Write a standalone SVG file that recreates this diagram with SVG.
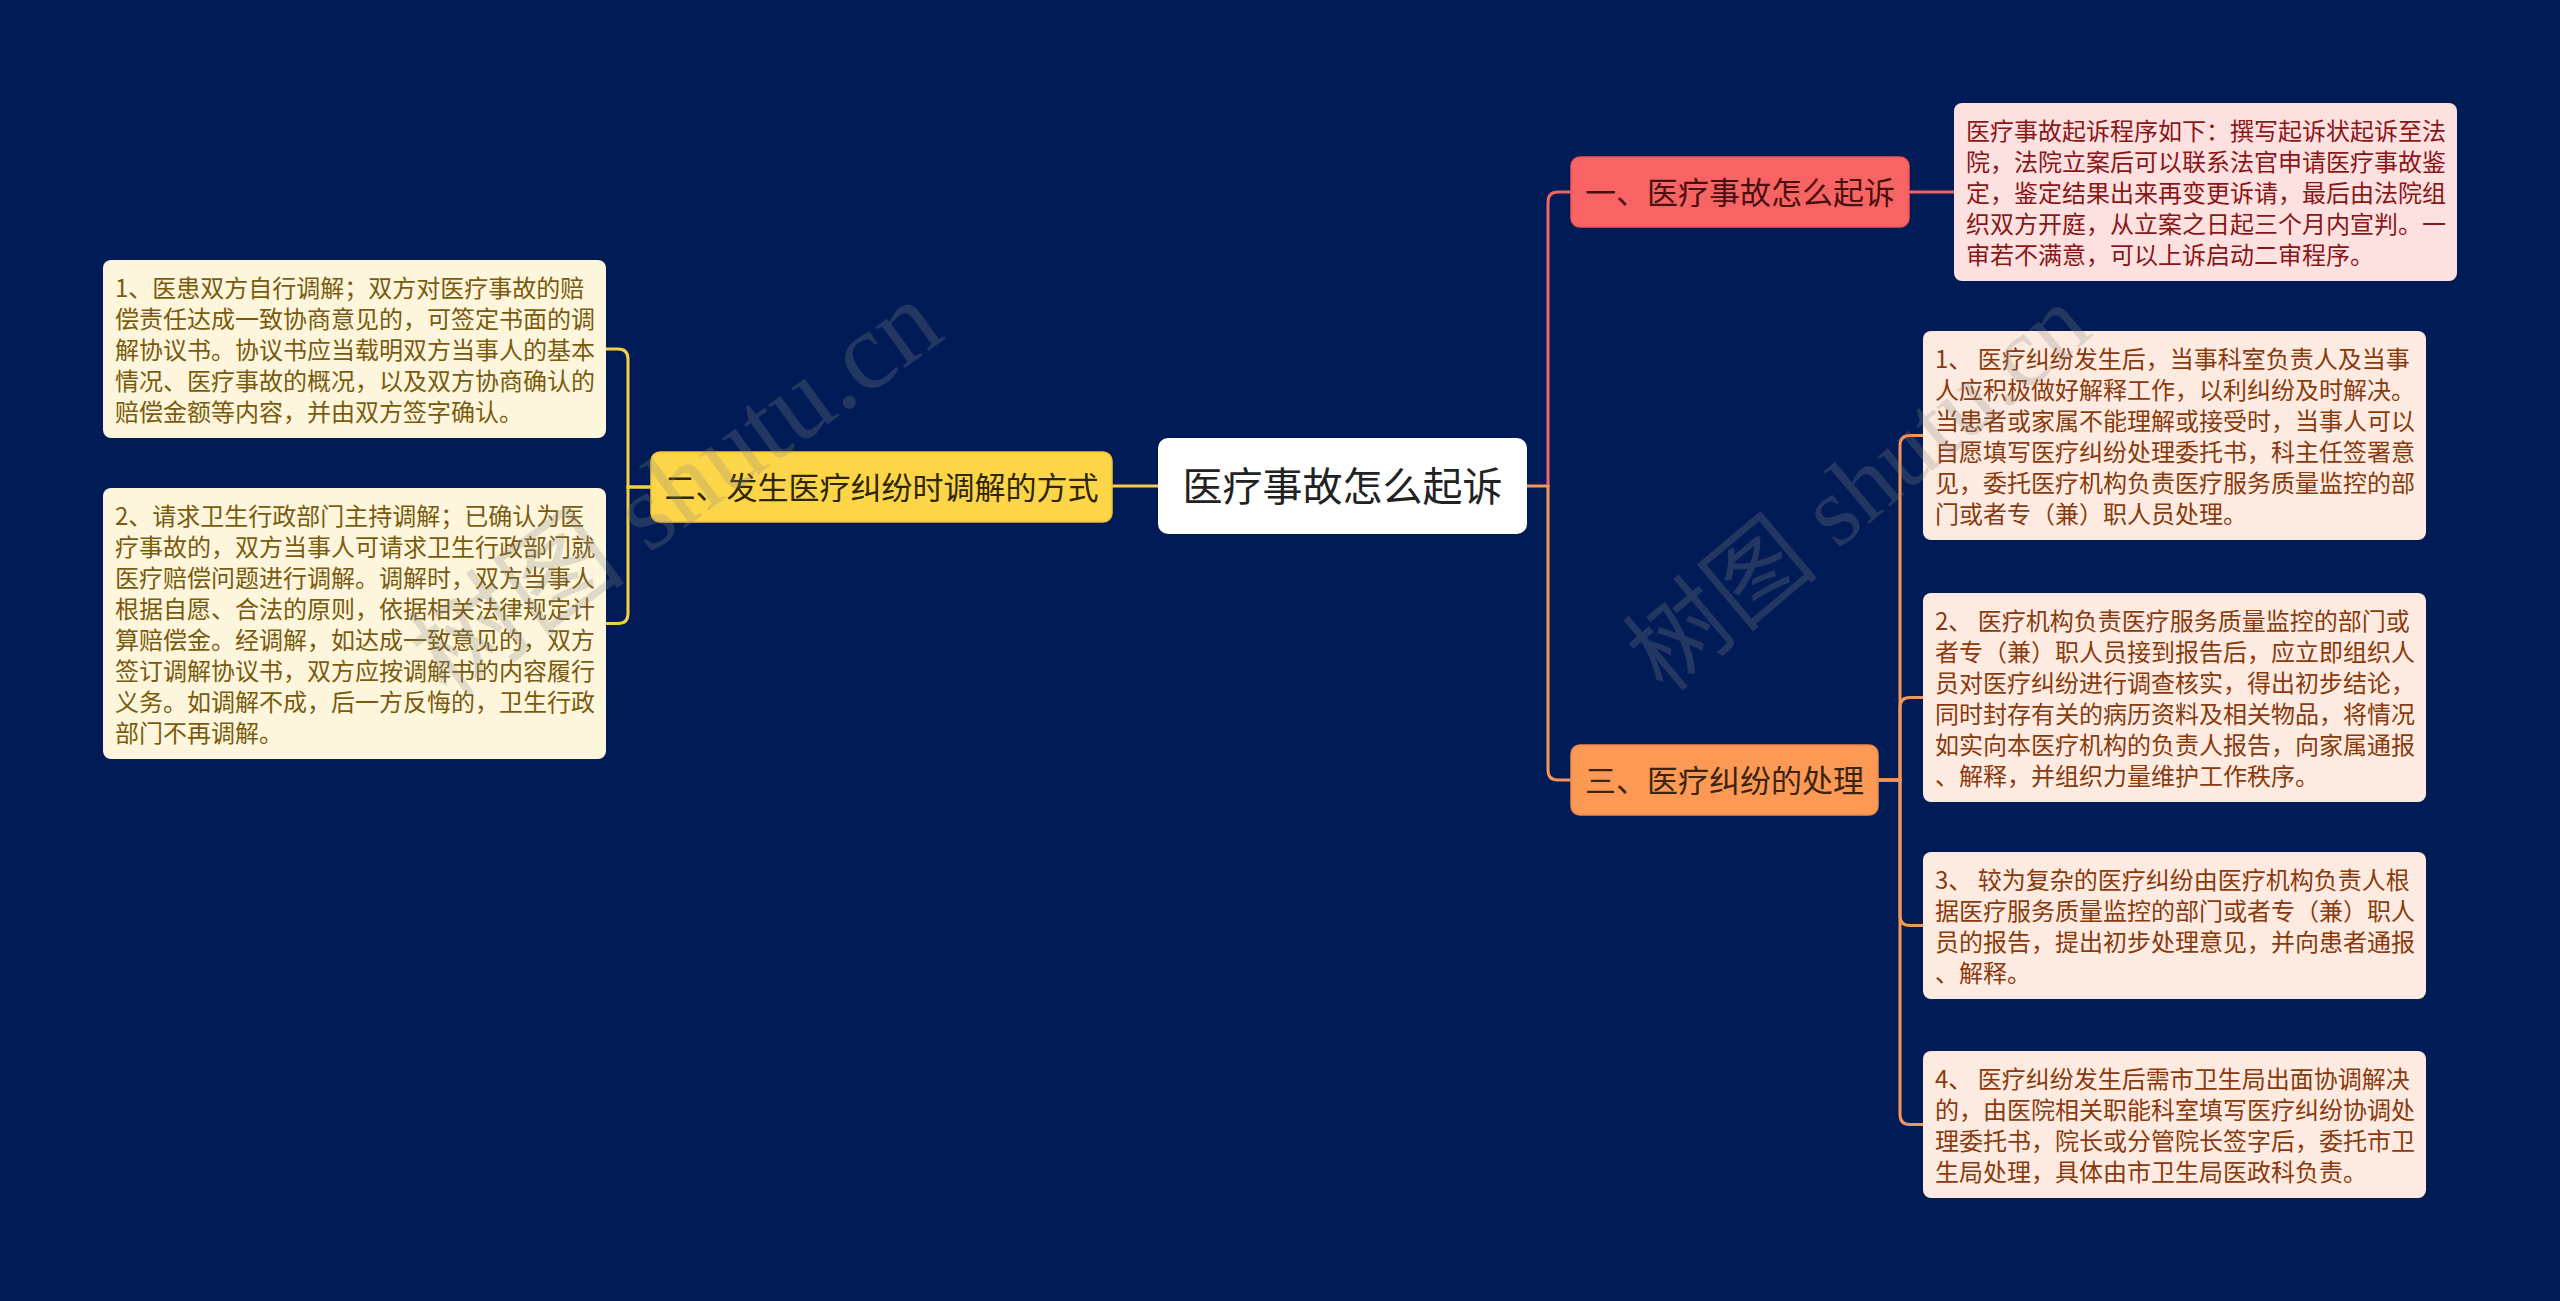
<svg xmlns="http://www.w3.org/2000/svg" width="2560" height="1301" viewBox="0 0 2560 1301">
<style>
.cjk{font-family:"Noto Sans CJK SC","Noto Sans",sans-serif}
.leaf{font-size:24px}
.main{font-size:31px}
.line{fill:none;stroke-width:3;stroke-linecap:round}
.wm{font-family:"Liberation Serif","Noto Sans CJK SC",serif;fill:#8a8a8a;opacity:0.25}
</style>
<rect x="0" y="0" width="2560" height="1301" fill="#011b57"/>
<g id="connectors">
  <path class="line" stroke="#f7cf45" d="M1158,486 H1112"/>
  <path class="line" stroke="#f7cf45" d="M651,487 H628 V359 Q628,349 618,349 H606"/>
  <path class="line" stroke="#f7cf45" d="M651,487 H628 V613.5 Q628,623.5 618,623.5 H606"/>
  <path class="line" stroke="#f59658" d="M1527,486 H1548"/>
  <path class="line" stroke="#ef6564" d="M1548,486 V202 Q1548,192 1558,192 H1571"/>
  <path class="line" stroke="#f59658" d="M1548,486 V770 Q1548,780 1558,780 H1571"/>
  <path class="line" stroke="#ef6564" d="M1909,192 H1954"/>
  <path class="line" stroke="#f59658" d="M1878,780 H1900 V445.5 Q1900,435.5 1910,435.5 H1923"/>
  <path class="line" stroke="#f59658" d="M1878,780 H1900 V707.5 Q1900,697.5 1910,697.5 H1923"/>
  <path class="line" stroke="#f59658" d="M1878,780 H1900 V915.5 Q1900,925.5 1910,925.5 H1923"/>
  <path class="line" stroke="#f59658" d="M1878,780 H1900 V1114.5 Q1900,1124.5 1910,1124.5 H1923"/>
</g>
<g id="root">
  <rect x="1158" y="438" width="369" height="96" rx="10" fill="#ffffff"/>
  <text class="cjk" x="1342.5" y="484" font-size="40" fill="#222222" text-anchor="middle" dominant-baseline="central">医疗事故怎么起诉</text>
</g>
<g id="n-left">
  <rect x="651" y="452" width="461" height="70" rx="9" fill="#fcd548" stroke="#f2c232" stroke-width="1.5"/>
  <text class="cjk main" x="881.5" y="485" fill="#2e2600" text-anchor="middle" dominant-baseline="central">二、发生医疗纠纷时调解的方式</text>
</g>
<g id="n-left-1">
  <rect x="103" y="260" width="503" height="178" rx="8" fill="#fdf6dc"/>
  <text class="cjk leaf" fill="#7a5b0e" dominant-baseline="central">
    <tspan x="115" y="286">1、医患双方自行调解；双方对医疗事故的赔</tspan>
    <tspan x="115" y="317">偿责任达成一致协商意见的，可签定书面的调</tspan>
    <tspan x="115" y="348">解协议书。协议书应当载明双方当事人的基本</tspan>
    <tspan x="115" y="379">情况、医疗事故的概况，以及双方协商确认的</tspan>
    <tspan x="115" y="410">赔偿金额等内容，并由双方签字确认。</tspan>
  </text>
</g>
<g id="n-left-2">
  <rect x="103" y="488" width="503" height="271" rx="8" fill="#fdf6dc"/>
  <text class="cjk leaf" fill="#7a5b0e" dominant-baseline="central">
    <tspan x="115" y="514">2、请求卫生行政部门主持调解；已确认为医</tspan>
    <tspan x="115" y="545">疗事故的，双方当事人可请求卫生行政部门就</tspan>
    <tspan x="115" y="576">医疗赔偿问题进行调解。调解时，双方当事人</tspan>
    <tspan x="115" y="607">根据自愿、合法的原则，依据相关法律规定计</tspan>
    <tspan x="115" y="638">算赔偿金。经调解，如达成一致意见的，双方</tspan>
    <tspan x="115" y="669">签订调解协议书，双方应按调解书的内容履行</tspan>
    <tspan x="115" y="700">义务。如调解不成，后一方反悔的，卫生行政</tspan>
    <tspan x="115" y="731">部门不再调解。</tspan>
  </text>
</g>
<g id="n-right-1">
  <rect x="1571" y="157" width="338" height="70" rx="9" fill="#f86464" stroke="#ee5656" stroke-width="1.5"/>
  <text class="cjk main" x="1740" y="190" fill="#4a0f0f" text-anchor="middle" dominant-baseline="central">一、医疗事故怎么起诉</text>
</g>
<g id="n-right-1-1">
  <rect x="1954" y="103" width="503" height="178" rx="8" fill="#fde1e1"/>
  <text class="cjk leaf" fill="#8a1616" dominant-baseline="central">
    <tspan x="1966" y="129">医疗事故起诉程序如下：撰写起诉状起诉至法</tspan>
    <tspan x="1966" y="160">院，法院立案后可以联系法官申请医疗事故鉴</tspan>
    <tspan x="1966" y="191">定，鉴定结果出来再变更诉请，最后由法院组</tspan>
    <tspan x="1966" y="222">织双方开庭，从立案之日起三个月内宣判。一</tspan>
    <tspan x="1966" y="253">审若不满意，可以上诉启动二审程序。</tspan>
  </text>
</g>
<g id="n-right-3">
  <rect x="1571" y="745" width="307" height="70" rx="9" fill="#fb9955" stroke="#f18a45" stroke-width="1.5"/>
  <text class="cjk main" x="1724.5" y="778" fill="#3d2410" text-anchor="middle" dominant-baseline="central">三、医疗纠纷的处理</text>
</g>
<g id="n-right-3-1">
  <rect x="1923" y="331" width="503" height="209" rx="8" fill="#fdebe1"/>
  <text class="cjk leaf" fill="#8a3a0c" dominant-baseline="central">
    <tspan x="1935" y="357">1、 医疗纠纷发生后，当事科室负责人及当事</tspan>
    <tspan x="1935" y="388">人应积极做好解释工作，以利纠纷及时解决。</tspan>
    <tspan x="1935" y="419">当患者或家属不能理解或接受时，当事人可以</tspan>
    <tspan x="1935" y="450">自愿填写医疗纠纷处理委托书，科主任签署意</tspan>
    <tspan x="1935" y="481">见，委托医疗机构负责医疗服务质量监控的部</tspan>
    <tspan x="1935" y="512">门或者专（兼）职人员处理。</tspan>
  </text>
</g>
<g id="n-right-3-2">
  <rect x="1923" y="593" width="503" height="209" rx="8" fill="#fdebe1"/>
  <text class="cjk leaf" fill="#8a3a0c" dominant-baseline="central">
    <tspan x="1935" y="619">2、 医疗机构负责医疗服务质量监控的部门或</tspan>
    <tspan x="1935" y="650">者专（兼）职人员接到报告后，应立即组织人</tspan>
    <tspan x="1935" y="681">员对医疗纠纷进行调查核实，得出初步结论，</tspan>
    <tspan x="1935" y="712">同时封存有关的病历资料及相关物品，将情况</tspan>
    <tspan x="1935" y="743">如实向本医疗机构的负责人报告，向家属通报</tspan>
    <tspan x="1935" y="774">、解释，并组织力量维护工作秩序。</tspan>
  </text>
</g>
<g id="n-right-3-3">
  <rect x="1923" y="852" width="503" height="147" rx="8" fill="#fdebe1"/>
  <text class="cjk leaf" fill="#8a3a0c" dominant-baseline="central">
    <tspan x="1935" y="878">3、 较为复杂的医疗纠纷由医疗机构负责人根</tspan>
    <tspan x="1935" y="909">据医疗服务质量监控的部门或者专（兼）职人</tspan>
    <tspan x="1935" y="940">员的报告，提出初步处理意见，并向患者通报</tspan>
    <tspan x="1935" y="971">、解释。</tspan>
  </text>
</g>
<g id="n-right-3-4">
  <rect x="1923" y="1051" width="503" height="147" rx="8" fill="#fdebe1"/>
  <text class="cjk leaf" fill="#8a3a0c" dominant-baseline="central">
    <tspan x="1935" y="1077">4、 医疗纠纷发生后需市卫生局出面协调解决</tspan>
    <tspan x="1935" y="1108">的，由医院相关职能科室填写医疗纠纷协调处</tspan>
    <tspan x="1935" y="1139">理委托书，院长或分管院长签字后，委托市卫</tspan>
    <tspan x="1935" y="1170">生局处理，具体由市卫生局医政科负责。</tspan>
  </text>
</g>
<g id="watermarks">
  <text class="wm" font-size="110" transform="translate(448,700) rotate(-36)">树图 shutu.cn</text>
  <text class="wm" font-size="100" transform="translate(1665,695) rotate(-40)">树图 shutu.cn</text>
</g>
</svg>
